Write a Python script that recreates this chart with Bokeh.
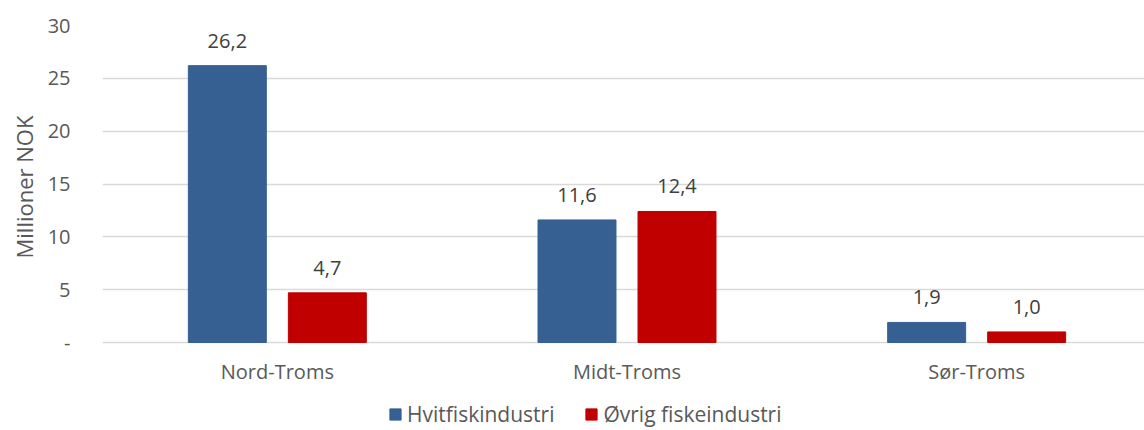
from bokeh.plotting import figure
from bokeh.models import ColumnDataSource, Range1d, FixedTicker, Legend, LegendItem, Title
from bokeh.core.properties import value
from bokeh.embed import file_html
from bokeh.resources import INLINE

regions = ["Nord-Troms", "Midt-Troms", "Sør-Troms"]
hvitfisk = [26.2, 11.6, 1.9]
ovrig = [4.7, 12.4, 1.0]
series_names = ["Hvitfiskindustri", "Øvrig fiskeindustri"]
y_ticks = [0, 5, 10, 15, 20, 25, 30]

BLUE = "#376092"
RED = "#C00000"
FONT = "Open Sans"

pos = [i + 0.5 for i in range(len(regions))]
off = 0.143
bw = 0.223

def fmt(v):
    return f"{v:.1f}".replace(".", ",")

src_h = ColumnDataSource(dict(x=[p_ - off for p_ in pos], top=hvitfisk, lab=[fmt(v) for v in hvitfisk]))
src_o = ColumnDataSource(dict(x=[p_ + off for p_ in pos], top=ovrig, lab=[fmt(v) for v in ovrig]))

px_per_unit = 317 / 30
p = figure(width=1144, height=430, output_backend="svg", toolbar_location=None,
           x_range=Range1d(0, 1043 / 350), y_range=Range1d(-88 / px_per_unit, 30),
           min_border_left=101, min_border_right=0, min_border_top=25, min_border_bottom=0)
p.outline_line_color = None
p.background_fill_color = "white"

r1 = p.vbar(x="x", top="top", bottom=0, width=bw, source=src_h, color=BLUE)
r2 = p.vbar(x="x", top="top", bottom=0, width=bw, source=src_o, color=RED)

for s in (src_h, src_o):
    p.text(x="x", y="top", text="lab", source=s, text_align="center", text_baseline="alphabetic",
           y_offset=-25, text_font=value(FONT), text_font_size="20px", text_color="#404040")

p.xgrid.visible = False
p.ygrid.ticker = FixedTicker(ticks=y_ticks)
p.ygrid.grid_line_color = "#d9d9d9"
p.ygrid.grid_line_width = 1.5

p.yaxis.ticker = FixedTicker(ticks=y_ticks)
p.yaxis.major_label_overrides = {0: "-"}
p.yaxis.axis_line_color = None
p.yaxis.major_tick_line_color = None
p.yaxis.minor_tick_line_color = None
p.yaxis.major_label_standoff = 26
p.yaxis.major_label_text_font = FONT
p.yaxis.major_label_text_font_size = "20px"
p.yaxis.major_label_text_color = "#595959"

ylab = Title(text="Millioner NOK", align="left", offset=172, text_font=FONT,
             text_font_size="22px", text_font_style="normal", text_color="#595959", standoff=12)
p.add_layout(ylab, "left")

p.xaxis.fixed_location = 0
p.xaxis.ticker = FixedTicker(ticks=pos)
p.xaxis.major_label_overrides = {p_: r for p_, r in zip(pos, regions)}
p.xaxis.axis_line_color = None
p.xaxis.major_tick_line_color = None
p.xaxis.minor_tick_line_color = None
p.xaxis.major_label_standoff = 9
p.xaxis.major_label_text_font = FONT
p.xaxis.major_label_text_font_size = "20px"
p.xaxis.major_label_text_color = "#595959"

legend = Legend(items=[LegendItem(label=series_names[0], renderers=[r1]),
                       LegendItem(label=series_names[1], renderers=[r2])],
                location=(286, 2), orientation="horizontal")
legend.border_line_color = None
legend.background_fill_alpha = 0
legend.padding = 0
legend.margin = 0
legend.spacing = 30
legend.glyph_width = 14
legend.glyph_height = 14
legend.label_standoff = 5
legend.label_text_font = FONT
legend.label_text_font_size = "21px"
legend.label_text_color = "#595959"
p.add_layout(legend, "center")

open("out.html", "w").write(file_html(p, INLINE))
